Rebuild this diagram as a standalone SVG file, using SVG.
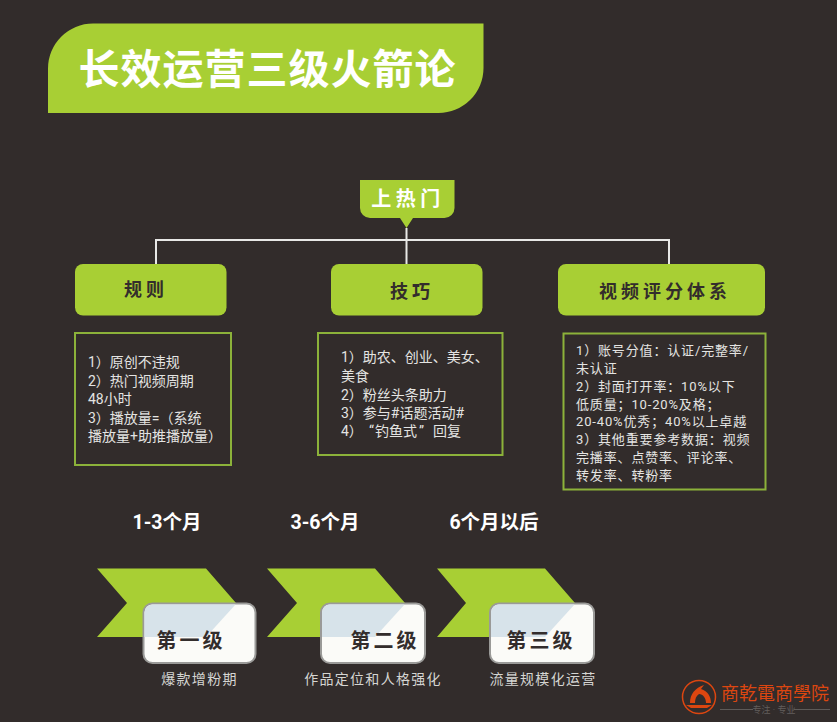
<svg xmlns="http://www.w3.org/2000/svg" width="837" height="722" viewBox="0 0 837 722">
<style>
text{font-family:Roboto,"Noto Sans CJK SC",sans-serif}
.g{fill:#a8cf34}
.h{font-weight:700;fill:#332d2c;font-size:18px;text-anchor:middle}
.d{fill:none;stroke:#8cb23a;stroke-width:2}
.t{fill:#e4e4e2;font-size:14px}
.s{fill:#e4e4e2;font-size:13px;letter-spacing:.85px}
.m{fill:#fff;font-weight:700;font-size:19.5px;text-anchor:middle}
.c{fill:#fbfbf8;stroke:#9a9a98;stroke-width:2}
.b{fill:#d7e3ea}
.k{font-weight:700;fill:#332d2c;font-size:20px;text-anchor:middle;letter-spacing:3px}
.u{fill:#d5d5d2;font-size:14px;text-anchor:middle;letter-spacing:1.3px}
.o{fill:#dc4610}
</style>
<rect width="837" height="722" fill="#322c2b"/>
<g id="title">
<path class="g" d="M93 23.500H483.500V68A45 45 0 0 1 438.500 113H48V68.500A45 45 0 0 1 93 23.500Z"/>
<text x="267.500" y="84" fill="#fff" font-size="41" font-weight="700" text-anchor="middle" letter-spacing="1">长效运营三级火箭论</text>
</g>
<g id="connectors" fill="none" stroke="#e8e8e6" stroke-width="2">
<path d="M406.500 228V264M156 264V240H669V264"/>
</g>
<g id="root">
<path class="g" d="M360 180H454.500V208A10 10 0 0 1 444.500 218H413L406.500 228L400 218H370A10 10 0 0 1 360 208Z"/>
<text x="408" y="206" fill="#fff" font-size="20" font-weight="700" text-anchor="middle" letter-spacing="4.500">上热门</text>
</g>
<g id="rules">
<rect class="g" x="75" y="264" width="151.500" height="51.500" rx="8"/>
<text class="h" x="146" y="296" letter-spacing="4">规则</text>
<rect class="d" x="75" y="333" width="156" height="132"/>
<text class="t" x="88" y="367">1）原创不违规</text>
<text class="t" x="88" y="386">2）热门视频周期</text>
<text class="t" x="88" y="404">48小时</text>
<text class="t" x="88" y="423">3）播放量=（系统</text>
<text class="t" x="88" y="441">播放量+助推播放量）</text>
</g>
<g id="skills">
<rect class="g" x="331" y="264" width="151.500" height="51.500" rx="8"/>
<text class="h" x="412" y="298" letter-spacing="4">技巧</text>
<rect class="d" x="318" y="333" width="184.500" height="122"/>
<text class="t" x="341" y="362">1）助农、创业、美女、</text>
<text class="t" x="341" y="381">美食</text>
<text class="t" x="341" y="400">2）粉丝头条助力</text>
<text class="t" x="341" y="418">3）参与#话题活动#</text>
<text class="t" x="341" y="436">4）<tspan x="369">“</tspan><tspan x="375">钓鱼式</tspan><tspan x="419">”</tspan><tspan x="433">回复</tspan></text>
</g>
<g id="scoring">
<rect class="g" x="558" y="264" width="207" height="51.500" rx="8"/>
<text class="h" x="665" y="298" letter-spacing="4">视频评分体系</text>
<rect class="d" x="563.500" y="333.500" width="202" height="156"/>
<text class="s" x="576" y="355">1）账号分值：认证/完整率/</text>
<text class="s" x="576" y="373">未认证</text>
<text class="s" x="576" y="391">2）封面打开率：10%以下</text>
<text class="s" x="576" y="409">低质量；10-20%及格；</text>
<text class="s" x="576" y="426">20-40%优秀；40%以上卓越</text>
<text class="s" x="576" y="444">3）其他重要参考数据：视频</text>
<text class="s" x="576" y="462">完播率、点赞率、评论率、</text>
<text class="s" x="576" y="480">转发率、转粉率</text>
</g>
<g id="level1">
<text class="m" x="167" y="529">1-3个月</text>
<path class="g" d="M97 568.500H206L236 603L206 637H97L127 603Z"/>
<rect class="c" x="143.500" y="603.500" width="112" height="59.500" rx="9"/>
<path class="b" d="M152 604.500H235.500L206 637H144.500V612A8 8 0 0 1 152 604.500Z"/>
<text class="k" x="191" y="648">第一级</text>
<text class="u" x="199.500" y="684">爆款增粉期</text>
</g>
<g id="level2">
<text class="m" x="325" y="529">3-6个月</text>
<path class="g" d="M267 568.500H375L405 603L375 637H267L297 603Z"/>
<rect class="c" x="321" y="603.500" width="104" height="59.500" rx="9"/>
<path class="b" d="M329 604.500H404.500L375 637H322V612A8 8 0 0 1 329 604.500Z"/>
<text class="k" x="385" y="648">第二级</text>
<text class="u" x="373" y="684">作品定位和人格强化</text>
</g>
<g id="level3">
<text class="m" x="494" y="529">6个月以后</text>
<path class="g" d="M437 568.500H545L575 603L545 637H437L466 603Z"/>
<rect class="c" x="490" y="603.500" width="104" height="59.500" rx="9"/>
<path class="b" d="M498 604.500H574.500L545 637H491V612A8 8 0 0 1 498 604.500Z"/>
<text class="k" x="541" y="648">第三级</text>
<text class="u" x="543" y="684">流量规模化运营</text>
</g>
<g id="logo">
<circle cx="699" cy="697" r="16.500" fill="none" stroke="#dc4610" stroke-width="1.500"/>
<path class="o" d="M690 703C690 694 695 688 704 685L701 689C708 691 711 697 711 703L706 703C706 698 703 694 699 694C696 696 695 699 695 703Z"/>
<path class="o" d="M686 705H712L707 708H691Z"/>
<text x="721" y="700" class="o" font-size="18" style="font-family:'Noto Sans CJK TC',sans-serif">商乾電商學院</text>
<path d="M720 709.500H753M794 709.500H830" stroke="#5e5a58" stroke-width="1"/>
<text x="774" y="713" fill="#625e5c" font-size="9" text-anchor="middle">专注 · 专业</text>
</g>
</svg>
